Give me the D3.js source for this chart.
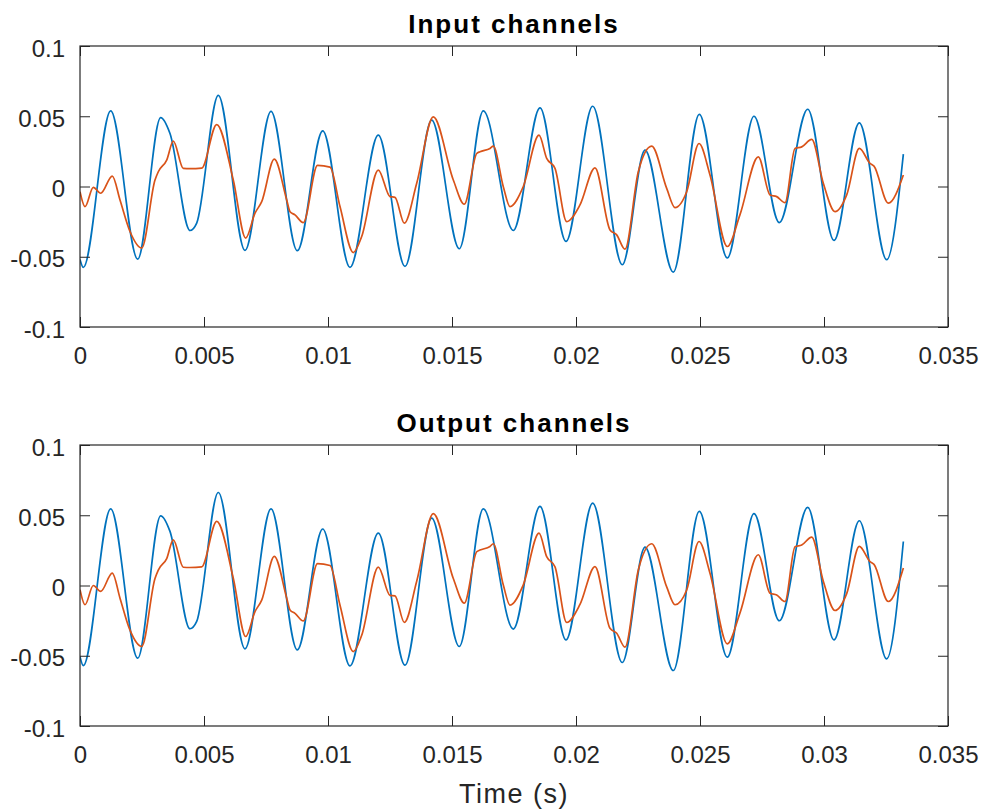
<!DOCTYPE html>
<html>
<head>
<meta charset="utf-8">
<script src="https://cdn.jsdelivr.net/npm/d3@7"></script>
<style>
  html, body { margin: 0; padding: 0; background: #fff; }
  svg { display: block; }
</style>
</head>
<body>
<svg id="chart" width="985" height="811"></svg>
<script>
// ---------------- DATA ----------------
const panelTitles = ["Input channels", "Output channels"];
const xLabel = "Time (s)";
const xTicks = [0, 0.005, 0.01, 0.015, 0.02, 0.025, 0.03, 0.035];
const xTickLabels = ["0", "0.005", "0.01", "0.015", "0.02", "0.025", "0.03", "0.035"];
const yTicks = [-0.1, -0.05, 0, 0.05, 0.1];
const yTickLabels = ["-0.1", "-0.05", "0", "0.05", "0.1"];
const seriesColors = ["#0072BD", "#D95319"];

// Channel 1 (blue), input
const inBlueT = [0, 0.000133, 0.001238, 0.002327, 0.003254, 0.003629, 0.004435, 0.004706, 0.005577, 0.006653,
  0.007702, 0.008762, 0.009786, 0.010887, 0.012028, 0.013105, 0.014181, 0.015294, 0.016262, 0.017472,
  0.018548, 0.019597, 0.020673, 0.021867, 0.022782, 0.023923, 0.024972, 0.026101, 0.027177, 0.028198,
  0.029343, 0.030403, 0.031423, 0.032528, 0.0332];
const inBlueV = [-0.052, -0.0576, 0.0538, -0.0517, 0.049, 0.0377, -0.0313, -0.026, 0.0649, -0.0455,
  0.0535, -0.0457, 0.0396, -0.0576, 0.0365, -0.0569, 0.0472, -0.0443, 0.0538, -0.0313,
  0.0559, -0.0391, 0.0571, -0.0557, 0.0259, -0.0609, 0.0514, -0.0509, 0.05, -0.0257,
  0.055, -0.0384, 0.0453, -0.0521, 0.023];

// Channel 2 (orange), input
const inOrangeT = [0, 0.000202, 0.000536, 0.000835, 0.001302, 0.001613, 0.002016, 0.002488, 0.003024, 0.003157,
  0.003496, 0.003762, 0.004165, 0.004435, 0.004907, 0.005512, 0.006181, 0.006681, 0.007056, 0.007327,
  0.007835, 0.008335, 0.008468, 0.008669, 0.009004, 0.009577, 0.010081, 0.010484, 0.011020, 0.011359,
  0.012028, 0.0125, 0.012702, 0.013077, 0.013577, 0.014246, 0.015053, 0.015496, 0.015996, 0.016129,
  0.016532, 0.016665, 0.017069, 0.017339, 0.017875, 0.018508, 0.018818, 0.019153, 0.019625, 0.020161,
  0.020766, 0.021371, 0.021641, 0.021976, 0.022512, 0.023052, 0.023657, 0.023992, 0.024463, 0.024960,
  0.025403, 0.026101, 0.026613, 0.027351, 0.027823, 0.028093, 0.028427, 0.028831, 0.029101, 0.029504,
  0.029972, 0.030444, 0.030915, 0.031423, 0.031855, 0.032016, 0.032593, 0.0332];
const inOrangeV = [-0.0037, -0.0143, -0.0006, -0.0048, 0.0074, -0.0096, -0.032, -0.0438, 0.0046, 0.0105,
  0.0188, 0.0323, 0.0129, 0.0127, 0.0131, 0.0441, 0.0046, -0.0367, -0.019, -0.0108,
  0.0195, -0.0096, -0.0179, -0.0202, -0.0257, 0.015, 0.0138, -0.0143, -0.047, -0.0356,
  0.0117, -0.0072, -0.0077, -0.0261, 0.0023, 0.0495, 0.0046, -0.0126, 0.0235, 0.0247,
  0.0271, 0.0287, -0.0001, -0.0143, 0.0, 0.0365, 0.02, 0.0129, -0.025, -0.0131,
  0.0133, -0.0309, -0.0344, -0.0446, 0.0105, 0.0287, -0.0013, -0.015, -0.0037, 0.0306,
  0.0082, -0.0427, -0.020, 0.0211, -0.006, -0.0072, -0.0115, 0.0271, 0.0282, 0.0335,
  0.0023, -0.0179, -0.006, 0.0271, 0.0165, 0.0145, -0.0119, 0.0082];

// Channel 1 (blue), output
const outBlueT = inBlueT;
const outBlueV = [-0.0506, -0.057, 0.0546, -0.0517, 0.0496, 0.0385, -0.0308, -0.0256, 0.0662, -0.0451,
  0.0546, -0.0458, 0.0402, -0.0572, 0.0373, -0.0567, 0.048, -0.0434, 0.0546, -0.031,
  0.0563, -0.0387, 0.0587, -0.0548, 0.0273, -0.0605, 0.0527, -0.051, 0.0511, -0.0251,
  0.0556, -0.0387, 0.0461, -0.0522, 0.0313];

// Channel 2 (orange), output
const outOrangeT = inOrangeT;
const outOrangeV = [-0.003, -0.0137, 0.0, -0.0042, 0.0088, -0.009, -0.0318, -0.0434, 0.005, 0.011,
  0.0192, 0.0325, 0.013, 0.0128, 0.0133, 0.0456, 0.0052, -0.0363, -0.0186, -0.0104,
  0.0207, -0.009, -0.0174, -0.0198, -0.0252, 0.0155, 0.0142, -0.014, -0.047, -0.0354,
  0.0131, -0.007, -0.0074, -0.0263, 0.003, 0.0511, 0.005, -0.0125, 0.024, 0.0252,
  0.0278, 0.0297, 0.0003, -0.014, 0.0005, 0.0373, 0.0205, 0.0133, -0.0263, -0.0135,
  0.0135, -0.0305, -0.034, -0.0439, 0.011, 0.0297, -0.001, -0.0137, -0.0032, 0.0313,
  0.0088, -0.0415, -0.0195, 0.0219, -0.0055, -0.0067, -0.0114, 0.0276, 0.0288, 0.0345,
  0.003, -0.0178, -0.0058, 0.0278, 0.017, 0.015, -0.0114, 0.0124];

const panels = [
  { title: panelTitles[0], series: [[inBlueT, inBlueV], [inOrangeT, inOrangeV]] },
  { title: panelTitles[1], series: [[outBlueT, outBlueV], [outOrangeT, outOrangeV]] }
];

// ---------------- LAYOUT ----------------
const svg = d3.select("#chart");
const left = 80, right = 948;
const panelTops = [46, 445];
const panelH = 281;
const axisColor = "#262626";
const fontFam = "'Liberation Sans', Arial, Helvetica, sans-serif";
const tickLen = 10;

const x = d3.scaleLinear().domain([0, 0.035]).range([left, right]);

panels.forEach((p, i) => {
  const top = panelTops[i], bottom = top + panelH;
  const y = d3.scaleLinear().domain([-0.1, 0.1]).range([bottom, top]);
  const g = svg.append("g");

  const clipId = "clip" + i;
  svg.append("clipPath").attr("id", clipId).append("rect")
    .attr("x", left).attr("y", top).attr("width", right - left).attr("height", panelH);
  p.series.forEach(([ts, vs], si) => {
    const pts = ts.map((t, k) => [t, vs[k]]);
    const line = d3.line().x(d => x(d[0])).y(d => y(d[1])).curve(d3.curveMonotoneX);
    g.append("path").datum(pts)
      .attr("d", line)
      .attr("fill", "none")
      .attr("stroke", seriesColors[si])
      .attr("stroke-width", 1.7)
      .attr("stroke-linejoin", "round")
      .attr("clip-path", `url(#${clipId})`);
  });

  const xb = d3.axisBottom(x).tickValues(xTicks).tickSizeInner(-tickLen).tickSizeOuter(0)
    .tickPadding(19.5).tickFormat((d, k) => xTickLabels[k]);
  const xt = d3.axisTop(x).tickValues(xTicks).tickSizeInner(-tickLen).tickSizeOuter(0).tickFormat("");
  const yl = d3.axisLeft(y).tickValues(yTicks).tickSizeInner(-tickLen).tickSizeOuter(0)
    .tickPadding(15).tickFormat((d, k) => yTickLabels[k]);
  const yr = d3.axisRight(y).tickValues(yTicks).tickSizeInner(-tickLen).tickSizeOuter(0).tickFormat("");

  const gxb = g.append("g").attr("transform", `translate(0,${bottom})`).call(xb);
  const gxt = g.append("g").attr("transform", `translate(0,${top})`).call(xt);
  const gyl = g.append("g").attr("transform", `translate(${left},0)`).call(yl);
  const gyr = g.append("g").attr("transform", `translate(${right},0)`).call(yr);

  [gxb, gxt, gyl, gyr].forEach(a => {
    a.select(".domain").remove();
    a.selectAll(".tick line").attr("stroke", axisColor).attr("stroke-width", 1);
    a.selectAll(".tick text").attr("fill", axisColor)
      .style("font-family", fontFam).style("font-size", "24px");
  });
  gyl.selectAll(".tick text").attr("dy", "0.42em");

  g.append("rect").attr("x", left).attr("y", top).attr("width", right - left).attr("height", panelH)
    .attr("fill", "none").attr("stroke", axisColor).attr("stroke-width", 1.2);

  g.append("text").attr("x", (left + right) / 2).attr("y", top - 13)
    .attr("text-anchor", "middle").attr("fill", "#000")
    .style("font-family", fontFam).style("font-size", "26px").style("font-weight", "bold")
    .style("letter-spacing", "2px")
    .text(p.title);
});

svg.append("text").attr("x", (left + right) / 2).attr("y", 803)
  .attr("text-anchor", "middle").attr("fill", axisColor)
  .style("font-family", fontFam).style("font-size", "27px")
  .style("letter-spacing", "1.5px")
  .text(xLabel);
</script>
</body>
</html>
